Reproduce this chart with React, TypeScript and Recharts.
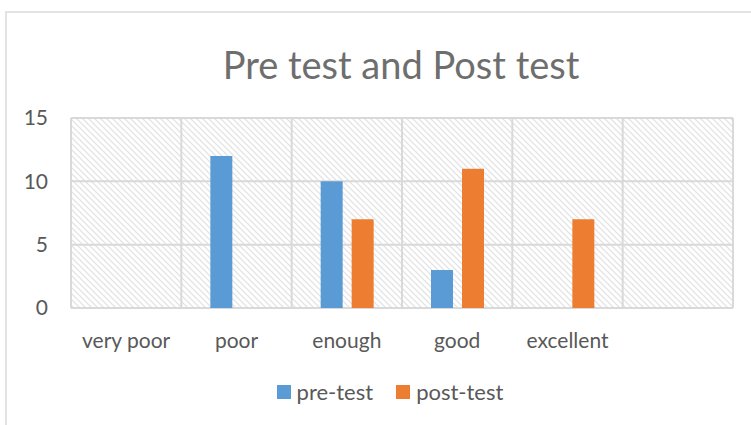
import React from "react";
import { BarChart, Bar, XAxis, YAxis, CartesianGrid, Legend } from "recharts";

const categories = ["very poor", "poor", "enough", "good", "excellent", ""];
const preTest = [0, 12, 10, 3, 0, 0];
const postTest = [0, 0, 7, 11, 7, 0];
const yTicks = [0, 5, 10, 15];
const seriesNames = ["pre-test", "post-test"];

const data = categories.map((name, i) => ({
  name,
  pre: preTest[i],
  post: postTest[i],
}));

const FONT = "Lato, 'Open Sans', sans-serif";
const TEXT = "#595959";
const GRID = "#d9d9d9";

function LegendContent(props: any) {
  const items = [...(props.payload || [])].sort(
    (a: any, b: any) => seriesNames.indexOf(a.value) - seriesNames.indexOf(b.value)
  );
  return (
    <div style={{ display: "flex", justifyContent: "center", fontFamily: FONT, fontSize: 22, color: TEXT, lineHeight: "24px" }}>
      {items.map((p: any, i: number) => (
        <div key={p.value} style={{ display: "flex", alignItems: "center", marginLeft: i === 0 ? 0 : 23 }}>
          <span style={{ width: 14, height: 14, background: p.color, display: "inline-block", marginRight: 6 }} />
          <span>{p.value}</span>
        </div>
      ))}
    </div>
  );
}

export default function App() {
  return (
    <div style={{ position: "absolute", left: 0, top: 0, width: 751, height: 425, overflow: "hidden", background: "#fff" }}>
      <svg width="0" height="0" style={{ position: "absolute" }}>
        <defs>
          <pattern id="hatch" width="6" height="6" patternUnits="userSpaceOnUse">
            <rect width="6" height="6" fill="#ffffff" />
            <path d="M-1,-1 L7,7 M-1,5 L1,7 M5,-1 L7,1" stroke="#e0e0e0" strokeWidth="1.2" />
          </pattern>
        </defs>
      </svg>
      <div style={{ position: "absolute", left: 5, top: 11, width: 800, height: 500, border: "2px solid #e3e3e3", boxSizing: "border-box" }} />
      <div style={{ position: "absolute", left: 0, top: 45, width: 802, textAlign: "center", fontFamily: FONT, fontSize: 38, lineHeight: 1, color: "#6e6e6e" }}>
        Pre test and Post test
      </div>
      <div style={{ position: "absolute", left: 0, top: 0 }}>
        <BarChart
          width={751}
          height={425}
          data={data}
          margin={{ top: 118, right: 18, bottom: 63, left: 0 }}
          barGap={9}
          barSize={22}
        >
          <CartesianGrid
            stroke={GRID}
            strokeWidth={2}
            fill="url(#hatch)"
            fillOpacity={1}
            verticalCoordinatesGenerator={({ offset }: any) =>
              categories.map((_, i) => offset.left + (i * offset.width) / categories.length).concat([offset.left + offset.width])
            }
          />
          <XAxis
            dataKey="name"
            axisLine={false}
            tickLine={false}
            tickSize={0}
            tickMargin={25}
            interval={0}
            tick={{ fill: TEXT, fontSize: 21, fontFamily: FONT }}
          />
          <YAxis
            width={71}
            domain={[0, 15]}
            ticks={yTicks}
            axisLine={false}
            tickLine={false}
            tickSize={0}
            tickMargin={23}
            tick={{ fill: TEXT, fontSize: 21, fontFamily: FONT }}
          />
          <Legend
            content={<LegendContent />}
            wrapperStyle={{ position: "absolute", left: 0, top: 380, width: 780, height: 24 }}
          />
          <Bar dataKey="pre" name={seriesNames[0]} fill="#5b9bd5" isAnimationActive={false} />
          <Bar dataKey="post" name={seriesNames[1]} fill="#ed7d31" isAnimationActive={false} />
        </BarChart>
      </div>
    </div>
  );
}
